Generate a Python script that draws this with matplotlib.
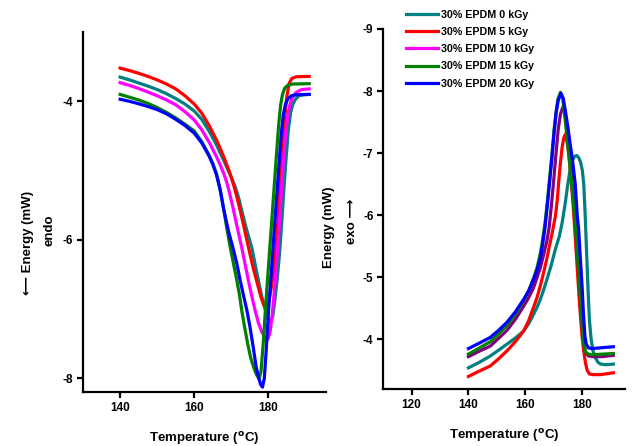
import matplotlib
matplotlib.use("Agg")
import matplotlib.pyplot as plt
from matplotlib.lines import Line2D

plt.rcParams['font.family'] = ['Liberation Sans', 'DejaVu Sans']
plt.rcParams['font.weight'] = 'bold'
plt.rcParams['axes.unicode_minus'] = False

labels = ['30% EPDM 0 kGy', '30% EPDM 5 kGy', '30% EPDM 10 kGy',
          '30% EPDM 15 kGy', '30% EPDM 20 kGy']
legend_colors = ['#008080', '#ff0000', '#ff00ff', '#008000', '#0000ff']

# ---- melting curves (left panel) ----
melt_x_0 = [140, 142.5, 145, 147.5, 150, 152.5, 155, 157.5, 160, 162, 164, 166, 168, 169,
            170, 171, 172, 172.8, 174, 175, 175.5, 176.4, 177.3, 178.2, 179, 179.8, 180.5,
            181.2, 181.8, 182.4, 183, 183.6, 184.2, 184.8, 185.4, 186, 186.6, 187.3, 188.2,
            189.5, 191]
melt_y_0 = [-3.65, -3.69, -3.735, -3.78, -3.83, -3.89, -3.96, -4.04, -4.14, -4.26, -4.43,
            -4.63, -4.86, -4.98, -5.10, -5.23, -5.40, -5.58, -5.83, -6.02, -6.11, -6.35,
            -6.59, -6.82, -6.98, -7.12, -7.20, -7.10, -6.85, -6.55, -6.20, -5.75, -5.25,
            -4.80, -4.40, -4.16, -4.04, -3.97, -3.92, -3.905, -3.90]
melt_x_5 = [140, 142.5, 145, 147.5, 150, 152.5, 155, 157.5, 160, 162, 164, 166, 167, 168,
            169, 170, 171, 172, 173, 174, 175, 176, 177, 178, 178.8, 179.4, 180, 180.6,
            181.3, 182, 182.6, 183.2, 183.8, 184.4, 185, 185.6, 186.3, 187.5, 191]
melt_y_5 = [-3.52, -3.555, -3.595, -3.64, -3.69, -3.75, -3.82, -3.92, -4.04, -4.17, -4.35,
            -4.56, -4.68, -4.81, -4.95, -5.10, -5.28, -5.49, -5.72, -5.96, -6.20, -6.43,
            -6.63, -6.83, -6.95, -7.00, -6.92, -6.75, -6.50, -6.15, -5.70, -5.15, -4.68,
            -4.25, -3.92, -3.74, -3.67, -3.645, -3.64]
melt_x_10 = [140, 142.5, 145, 147.5, 150, 152.5, 155, 157.5, 160, 162, 164, 166, 167, 168,
             168.75, 169.5, 170.5, 171.5, 172.8, 173.7, 174.6, 175.5, 176.4, 177.3, 178.2,
             179.1, 179.8, 180.4, 181, 181.6, 182.2, 182.8, 183.4, 184, 184.6, 185.2, 185.8,
             186.5, 187.5, 189, 191]
melt_y_10 = [-3.73, -3.77, -3.815, -3.865, -3.92, -3.98, -4.05, -4.15, -4.27, -4.41, -4.59,
             -4.80, -4.92, -5.05, -5.17, -5.32, -5.55, -5.80, -6.11, -6.35, -6.59, -6.81,
             -7.02, -7.20, -7.33, -7.41, -7.44, -7.35, -7.10, -6.75, -6.35, -5.90, -5.40,
             -4.90, -4.50, -4.22, -4.05, -3.94, -3.87, -3.83, -3.82]
melt_x_15 = [140, 142.5, 145, 147.5, 150, 152.5, 155, 157.5, 160, 162, 164, 165, 166, 167,
             168, 168.8, 169.7, 170.6, 171.5, 172.2, 172.8, 173.6, 174.4, 175.2, 176,
             176.8, 177.5, 178, 178.6, 179.2, 179.8, 180.4, 181, 181.6, 182.2, 182.8, 183.3,
             183.8, 184.4, 185.2, 186.5, 191]
melt_y_15 = [-3.90, -3.94, -3.98, -4.03, -4.09, -4.16, -4.24, -4.33, -4.43, -4.58, -4.78,
             -4.90, -5.05, -5.28, -5.58, -5.84, -6.11, -6.35, -6.59, -6.80, -7.02, -7.27,
             -7.50, -7.70, -7.84, -7.95, -8.01, -7.90, -7.50, -7.00, -6.55, -6.10, -5.65,
             -5.20, -4.75, -4.32, -4.05, -3.90, -3.81, -3.77, -3.75, -3.745]
melt_x_20 = [140, 142.5, 145, 147.5, 150, 152.5, 155, 157.5, 160, 162, 164, 165, 166,
             167, 167.9, 169.2, 170.5, 171.5, 172.4, 173.3, 174.2, 175, 175.9, 176.7, 177.4,
             177.9, 178.4, 178.9, 179.4, 180, 180.6, 181.2, 181.8, 182.4, 183, 183.5, 184,
             184.6, 185.3, 186.2, 187.5, 191]
melt_y_20 = [-3.97, -4.00, -4.035, -4.075, -4.12, -4.18, -4.26, -4.35, -4.46, -4.60, -4.79,
             -4.91, -5.06, -5.28, -5.55, -5.87, -6.13, -6.35, -6.59, -6.81, -7.02, -7.25,
             -7.55, -7.84, -8.00, -8.09, -8.13, -8.00, -7.60, -7.05, -6.60, -6.15, -5.70,
             -5.25, -4.80, -4.45, -4.20, -4.04, -3.96, -3.92, -3.905, -3.90]

# ---- crystallisation curves (right panel) ----
cryst_x_0 = [140, 143.5, 147.7, 150.5, 153.5, 156.5, 159.4, 161.2, 162.9, 164.2, 165.3,
             166.5, 167.6, 169, 170.6, 172, 173, 174, 174.9, 175.7, 176.5, 177.4, 178.2,
             178.9, 179.5, 180.1, 180.6, 181.1, 181.6, 182.1, 182.6, 183.2, 183.8, 184.7,
             185.6, 186.5, 188.5, 191]
cryst_y_0 = [-3.54, -3.62, -3.73, -3.82, -3.92, -4.02, -4.13, -4.25, -4.40, -4.52, -4.64,
             -4.80, -4.96, -5.17, -5.45, -5.66, -5.88, -6.17, -6.47, -6.71, -6.87, -6.95,
             -6.96, -6.92, -6.85, -6.72, -6.50, -6.00, -5.40, -4.80, -4.30, -4.00, -3.82,
             -3.70, -3.63, -3.60, -3.59, -3.60]
cryst_x_5 = [140, 143.5, 147.7, 150.5, 153.5, 156.5, 159.4, 161.2, 162.9, 164.2, 165.3,
             166.5, 167.6, 168.6, 169.6, 170.6, 171.3, 171.8, 172.4, 173, 173.6, 174.1,
             174.6, 175.3, 176, 176.8, 177.6, 178.5, 179.3, 180, 180.6, 181.2, 181.8, 182.6,
             184, 186.5, 191]
cryst_y_5 = [-3.40, -3.48, -3.57, -3.68, -3.81, -3.96, -4.13, -4.30, -4.51, -4.68, -4.86,
             -5.08, -5.30, -5.52, -5.74, -5.98, -6.25, -6.55, -6.85, -7.10, -7.25, -7.30,
             -7.22, -7.00, -6.65, -6.20, -5.65, -5.00, -4.45, -4.05, -3.80, -3.62, -3.50,
             -3.44, -3.43, -3.43, -3.46]
cryst_x_10 = [140, 143.5, 147.7, 150.5, 153.5, 156.5, 159.4, 161.2, 162.9, 164.2, 165.3,
              166.5, 167.6, 168.4, 169.2, 170, 170.8, 171.6, 172.4, 173.3, 174, 174.8,
              175.7, 176.5, 177.6, 178.5, 179.4, 180.1, 180.7, 181.4, 182.3, 184, 187, 191]
cryst_y_10 = [-3.72, -3.80, -3.89, -4.01, -4.14, -4.32, -4.53, -4.67, -4.83, -5.00, -5.15,
              -5.37, -5.58, -5.80, -6.15, -6.55, -6.98, -7.38, -7.63, -7.75, -7.66, -7.35,
              -6.95, -6.55, -5.90, -5.30, -4.70, -4.20, -3.90, -3.77, -3.73, -3.72, -3.72,
              -3.74]
cryst_x_15 = [140, 143.5, 147.7, 150.5, 153.5, 156.5, 159.4, 161.2, 162.9, 164.2, 165.3,
              166.1, 166.9, 167.7, 168.5, 169.4, 170.2, 170.8, 171.5, 172.4, 173.2, 173.9,
              174.7, 175.5, 176.5, 177.6, 178.5, 179.4, 180.1, 180.7, 181.3, 182.3, 184, 187,
              191]
cryst_y_15 = [-3.76, -3.85, -3.96, -4.08, -4.22, -4.40, -4.62, -4.78, -4.98, -5.16, -5.38,
              -5.60, -5.85, -6.18, -6.55, -6.98, -7.40, -7.65, -7.87, -7.98, -7.88, -7.60,
              -7.25, -6.90, -6.45, -5.85, -5.28, -4.70, -4.20, -3.90, -3.79, -3.76, -3.75,
              -3.76, -3.77]
cryst_x_20 = [140, 143.5, 147.7, 150.5, 153.5, 156.5, 159.4, 161.2, 162.9, 164.2, 165.3,
              166.1, 166.9, 167.7, 168.5, 169.4, 170.2, 170.9, 171.6, 172.6, 173.4, 174.2,
              175, 175.8, 176.6, 177.6, 178.3, 178.8, 179.4, 180, 180.5, 181, 181.5, 182.3,
              183.5, 186, 191]
cryst_y_20 = [-3.85, -3.93, -4.03, -4.14, -4.27, -4.44, -4.64, -4.78, -4.96, -5.12, -5.30,
              -5.52, -5.78, -6.12, -6.50, -6.93, -7.35, -7.65, -7.85, -7.96, -7.88, -7.66,
              -7.42, -7.15, -6.90, -6.50, -6.00, -5.77, -5.30, -4.86, -4.40, -4.05, -3.92,
              -3.86, -3.85, -3.86, -3.88]

melt_x = [melt_x_0, melt_x_5, melt_x_10, melt_x_15, melt_x_20]
melt_y = [melt_y_0, melt_y_5, melt_y_10, melt_y_15, melt_y_20]
cryst_x = [cryst_x_0, cryst_x_5, cryst_x_10, cryst_x_15, cryst_x_20]
cryst_y = [cryst_y_0, cryst_y_5, cryst_y_10, cryst_y_15, cryst_y_20]
# the 10 kGy crystallisation trace is drawn in purple in the original
cryst_colors = ['#008080', '#ff0000', '#800080', '#008000', '#0000ff']

fig = plt.figure(figsize=(6.44, 4.46), dpi=100)
ax1 = fig.add_axes([0.129, 0.121, 0.377, 0.807])
ax2 = fig.add_axes([0.595, 0.128, 0.375, 0.807])

for xs, ys, c in zip(melt_x, melt_y, legend_colors):
    ax1.plot(xs, ys, color=c, lw=2.3, solid_joinstyle='round')
for xs, ys, c in zip(cryst_x, cryst_y, cryst_colors):
    ax2.plot(xs, ys, color=c, lw=2.3, solid_joinstyle='round')

ax1.set_xlim(130, 195.5)
ax1.set_ylim(-8.2, -3.0)
ax1.set_xticks([140, 160, 180])
ax1.set_yticks([-8, -6, -4])

ax2.set_xlim(110, 195)
ax2.set_ylim(-3.2, -9)
ax2.set_xticks([120, 140, 160, 180])
ax2.set_yticks([-9, -8, -7, -6, -5, -4])

for ax in (ax1, ax2):
    for s in ('top', 'right'):
        ax.spines[s].set_visible(False)
    for s in ('left', 'bottom'):
        ax.spines[s].set_linewidth(1.6)
    ax.tick_params(direction='out', length=4, width=1.6, labelsize=8.5, pad=3)
    ax.set_xlabel('Temperature ($^{\\mathbf{o}}$C)', fontsize=9.5, fontweight='bold',
                  labelpad=12)
    for t in ax.get_xticklabels() + ax.get_yticklabels():
        t.set_fontweight('bold')

# y labels with the endo / exo arrows
fig.text(28 / 644, 1 - 243 / 446, '\u27f5 Energy (mW)', rotation=90, ha='center',
         va='center', fontsize=9.5, fontweight='bold')
fig.text(50 / 644, 1 - 230 / 446, 'endo', rotation=90, ha='center', va='center',
         fontsize=9.5, fontweight='bold')
fig.text(329 / 644, 1 - 227 / 446, 'Energy (mW)', rotation=90, ha='center',
         va='center', fontsize=9.5, fontweight='bold')
fig.text(352 / 644, 1 - 221 / 446, 'exo \u27f6', rotation=90, ha='center',
         va='center', fontsize=9.5, fontweight='bold')

handles = [Line2D([], [], color=c, lw=2.3) for c in legend_colors]
leg = fig.legend(handles, labels, loc='upper left', bbox_to_anchor=(400 / 644, 0.993),
                 frameon=False, fontsize=7.7, handlelength=2.95, handletextpad=0.3,
                 labelspacing=0.68, borderaxespad=0.2)
for t in leg.get_texts():
    t.set_fontweight('bold')

fig.savefig('out.png', dpi=100)
